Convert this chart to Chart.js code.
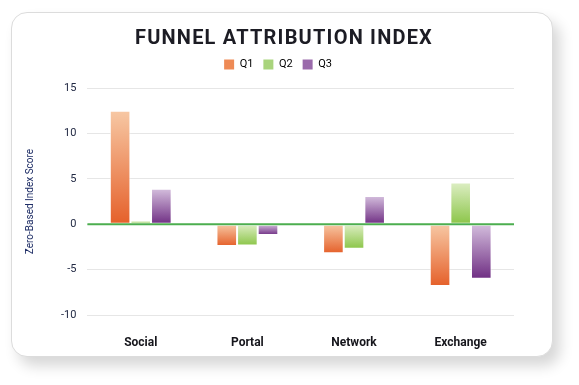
<!DOCTYPE html>
<html>
<head>
<meta charset="utf-8">
<script src="https://cdn.jsdelivr.net/npm/chart.js@4.4.1/dist/chart.umd.min.js"></script>
<style>
  html, body { margin: 0; padding: 0; background: #fff; }
  body { width: 579px; height: 385px; position: relative; overflow: hidden; }
  .card {
    position: absolute; left: 11px; top: 12px; width: 540px; height: 343px;
    background: #fff; border: 1px solid #dcdcdc; border-radius: 16px;
    box-shadow: 7px 9px 14px rgba(0, 0, 0, 0.16);
  }
  .card canvas { display: block; position: absolute; left: 0; top: 0; }
  .title {
    position: absolute; left: 0; top: 12px; width: 544px; text-align: center;
    font: 700 20px/24px Roboto, sans-serif; letter-spacing: 1.2px; color: #1c1c24;
  }
</style>
</head>
<body>
<div class="card">
  <canvas id="chart" width="540" height="343"></canvas>
  <div class="title">FUNNEL ATTRIBUTION INDEX</div>
</div>
<script>
const categories = ["Social", "Portal", "Network", "Exchange"];
const seriesNames = ["Q1", "Q2", "Q3"];
const q1Values = [12.5, -2.4, -3.2, -6.8];
const q2Values = [0.4, -2.35, -2.7, 4.6];
const q3Values = [3.9, -1.2, 3.1, -6.0];
const yTicks = [-10, -5, 0, 5, 10, 15];

const palette = [
  { light: "#f7c8a4", dark: "#e5602a", mid: "#ee8a55" },
  { light: "#ddeec4", dark: "#8bc548", mid: "#a9d47c" },
  { light: "#d4bedd", dark: "#6f2e83", mid: "#9a6aab" }
];

function barGradient(colors) {
  return function (ctx) {
    const chart = ctx.chart;
    if (!chart.chartArea || !ctx.parsed) return colors.mid;
    const y = chart.scales.y;
    const v = ctx.parsed.y;
    const top = y.getPixelForValue(Math.max(v, 0));
    const bottom = y.getPixelForValue(Math.min(v, 0));
    if (!isFinite(top) || !isFinite(bottom) || bottom - top < 1) return colors.mid;
    const g = chart.ctx.createLinearGradient(0, top, 0, bottom);
    g.addColorStop(0, colors.light);
    g.addColorStop(1, colors.dark);
    return g;
  };
}

// zero line sits over the bars, like the source
const zeroLine = {
  id: "zeroLine",
  afterDatasetsDraw(chart) {
    const { ctx, chartArea, scales } = chart;
    const y0 = scales.y.getPixelForValue(0);
    ctx.save();
    ctx.strokeStyle = "#4cae4f";
    ctx.lineWidth = 2;
    ctx.beginPath();
    ctx.moveTo(chartArea.left, y0);
    ctx.lineTo(chartArea.right, y0);
    ctx.stroke();
    ctx.restore();
  }
};

// room under the legend, and nudge it a little right
const legendGap = {
  id: "legendGap",
  beforeInit(chart) {
    const fitLegend = chart.legend.fit;
    chart.legend.fit = function () {
      fitLegend.call(this);
      this.height += 8;
    };
  },
  afterLayout(chart) {
    chart.legend.left += 9;
    chart.legend.right += 9;
  }
};

const allValues = [q1Values, q2Values, q3Values];

new Chart(document.getElementById("chart"), {
  type: "bar",
  data: {
    labels: categories,
    datasets: seriesNames.map((name, i) => ({
      label: name,
      data: allValues[i],
      backgroundColor: barGradient(palette[i]),
      borderColor: "rgba(255,255,255,0.7)",
      borderWidth: 1,
      borderSkipped: false,
      categoryPercentage: 0.58,
      barPercentage: 1.0
    }))
  },
  options: {
    responsive: false,
    animation: false,
    layout: { padding: { left: 12, right: 38, top: 36, bottom: 4 } },
    plugins: {
      legend: {
        labels: {
          boxWidth: 10,
          boxHeight: 10,
          color: "#222a44",
          font: { family: "Roboto", size: 11 },
          padding: 10,
          generateLabels(chart) {
            return chart.data.datasets.map((ds, i) => ({
              text: ds.label,
              fillStyle: palette[i].mid,
              strokeStyle: palette[i].mid,
              lineWidth: 0,
              datasetIndex: i
            }));
          }
        }
      },
      tooltip: { enabled: false }
    },
    scales: {
      x: {
        grid: { display: false, drawTicks: false },
        border: { display: false },
        afterFit(scale) { scale.height = 37; },
        ticks: {
          color: "#16161c",
          font: { family: "Roboto", size: 12, weight: "bold" },
          padding: 21
        }
      },
      y: {
        min: yTicks[0],
        max: yTicks[yTicks.length - 1],
        afterBuildTicks(scale) {
          scale.ticks = yTicks.map(v => ({ value: v }));
        },
        border: { display: false },
        grid: { color: "#e6e6e6", lineWidth: 1, drawTicks: false },
        ticks: {
          color: "#222a44",
          font: { family: "Roboto", size: 11 },
          padding: 11
        },
        title: {
          display: true,
          text: "Zero-Based Index Score",
          color: "#1f2e66",
          font: { family: "Roboto", size: 10 },
          padding: { top: 0, bottom: 14 }
        }
      }
    }
  },
  plugins: [zeroLine, legendGap]
});
</script>
</body>
</html>
